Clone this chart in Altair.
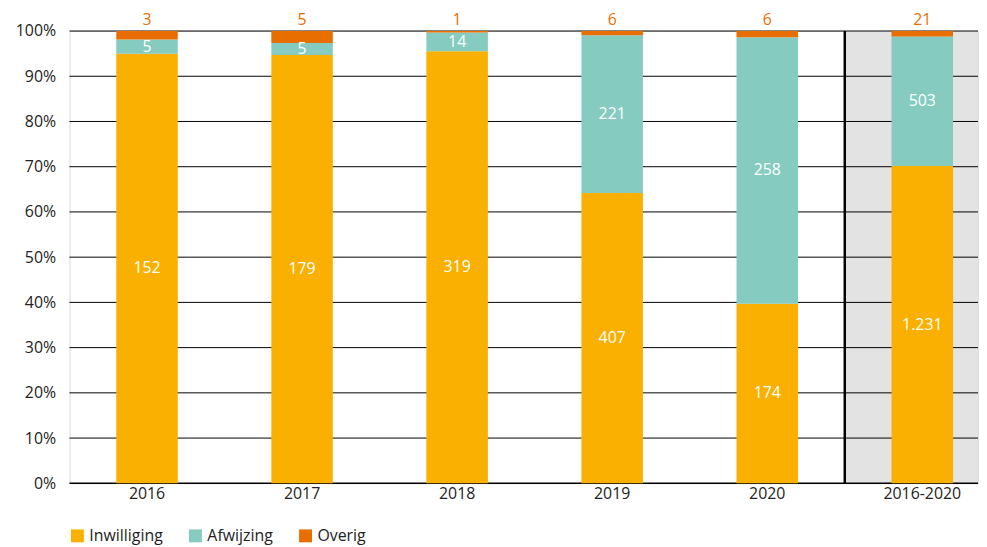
import altair as alt
import pandas as pd

categories = ["2016", "2017", "2018", "2019", "2020", "2016-2020"]
inwilliging = [152, 179, 319, 407, 174, 1231]
afwijzing = [5, 5, 14, 221, 258, 503]
overig = [3, 5, 1, 6, 6, 21]
series = ["Inwilliging", "Afwijzing", "Overig"]
colors = ["#F9B000", "#85CBBF", "#E96E00"]
grid_values = [0.1, 0.2, 0.3, 0.4, 0.5, 0.6, 0.7, 0.8, 0.9, 1.0]
axis_values = [0.0, 0.1, 0.2, 0.3, 0.4, 0.5, 0.6, 0.7, 0.8, 0.9, 1.0]
highlight = ["2016-2020"]

FONT = "Open Sans"


def nl(n):
    return f"{n:,}".replace(",", ".")


rows = []
for i, c in enumerate(categories):
    vals = [inwilliging[i], afwijzing[i], overig[i]]
    tot = sum(vals)
    lo = 0.0
    for k, (s, v) in enumerate(zip(series, vals)):
        f = v / tot
        rows.append(dict(cat=c, series=s, order=k, value=v,
                         y0=lo, y1=lo + f, mid=lo + f / 2, label=nl(v)))
        lo += f
df = pd.DataFrame(rows)

bg_df = pd.DataFrame({"cat": highlight, "y0": [0.0], "y1": [1.0]})
grid_df = pd.DataFrame({"g": grid_values})
base_df = pd.DataFrame({"g": [0.0]})

# the last band runs past the visible plot edge, as in the original
xscale = alt.Scale(domain=categories, paddingInner=0, paddingOuter=0,
                   range=[0, 938])
x_enc = alt.X("cat:N", sort=categories, scale=xscale,
              axis=alt.Axis(title=None, labelAngle=0, ticks=False,
                            bandPosition=0.5, labelAlign="center",
                            domain=False,
                            labelPadding=10, labelFontSize=16,
                            labelColor="#222222"))
yscale = alt.Scale(domain=[0, 1])

bg = alt.Chart(bg_df).mark_rect(color="#E3E3E3", clip=True).encode(
    x=alt.X("cat:N", sort=categories, scale=xscale),
    y=alt.Y("y0:Q", scale=yscale),
    y2="y1:Q",
)

grid = alt.Chart(grid_df).mark_rule(color="#000000", strokeWidth=1).encode(
    y=alt.Y("g:Q", scale=yscale)
)

baseline = alt.Chart(base_df).mark_rule(color="#000000", strokeWidth=1.5).encode(
    y=alt.Y("g:Q", scale=yscale)
)

sep = alt.Chart(bg_df).mark_rule(color="#000000", strokeWidth=2.5).encode(
    x=alt.X("cat:N", sort=categories, scale=xscale, bandPosition=0),
    y=alt.Y("y0:Q", scale=yscale),
    y2="y1:Q",
)

bars = alt.Chart(df).mark_bar(size=62).encode(
    x=x_enc,
    y=alt.Y("value:Q", stack="normalize", scale=yscale,
            axis=alt.Axis(title=None, format=".0%", values=axis_values,
                          grid=False, domain=False, ticks=False,
                          labelPadding=14, labelFontSize=16,
                          labelColor="#222222")),
    color=alt.Color("series:N", sort=series,
                    scale=alt.Scale(domain=series, range=colors),
                    legend=alt.Legend(title=None, orient="bottom",
                                      direction="horizontal",
                                      symbolType="square", symbolSize=170,
                                      symbolStrokeWidth=0,
                                      labelFontSize=16, labelColor="#222222",
                                      columnPadding=24, offset=27)),
    order=alt.Order("order:Q"),
)

inner = alt.Chart(df).transform_filter(
    alt.datum.series != "Overig"
).mark_text(color="white", fontSize=16, baseline="middle").encode(
    x=alt.X("cat:N", sort=categories, scale=xscale),
    y=alt.Y("mid:Q", scale=yscale),
    text="label:N",
)

top = alt.Chart(df).transform_filter(
    alt.datum.series == "Overig"
).mark_text(color="#E96E00", fontSize=16, baseline="bottom", dy=-3).encode(
    x=alt.X("cat:N", sort=categories, scale=xscale),
    y=alt.Y("y1:Q", scale=yscale),
    text="label:N",
)

chart = alt.layer(bg, grid, baseline, sep, bars, inner, top).properties(
    width=979, height=538,
    autosize=alt.AutoSizeParams(type="fit", contains="padding"),
    padding={"left": 7, "right": 0, "top": 2, "bottom": 0},
).configure_view(stroke=None).configure(font=FONT)

chart.save("out.html", embed_options={"renderer": "svg", "actions": False})
